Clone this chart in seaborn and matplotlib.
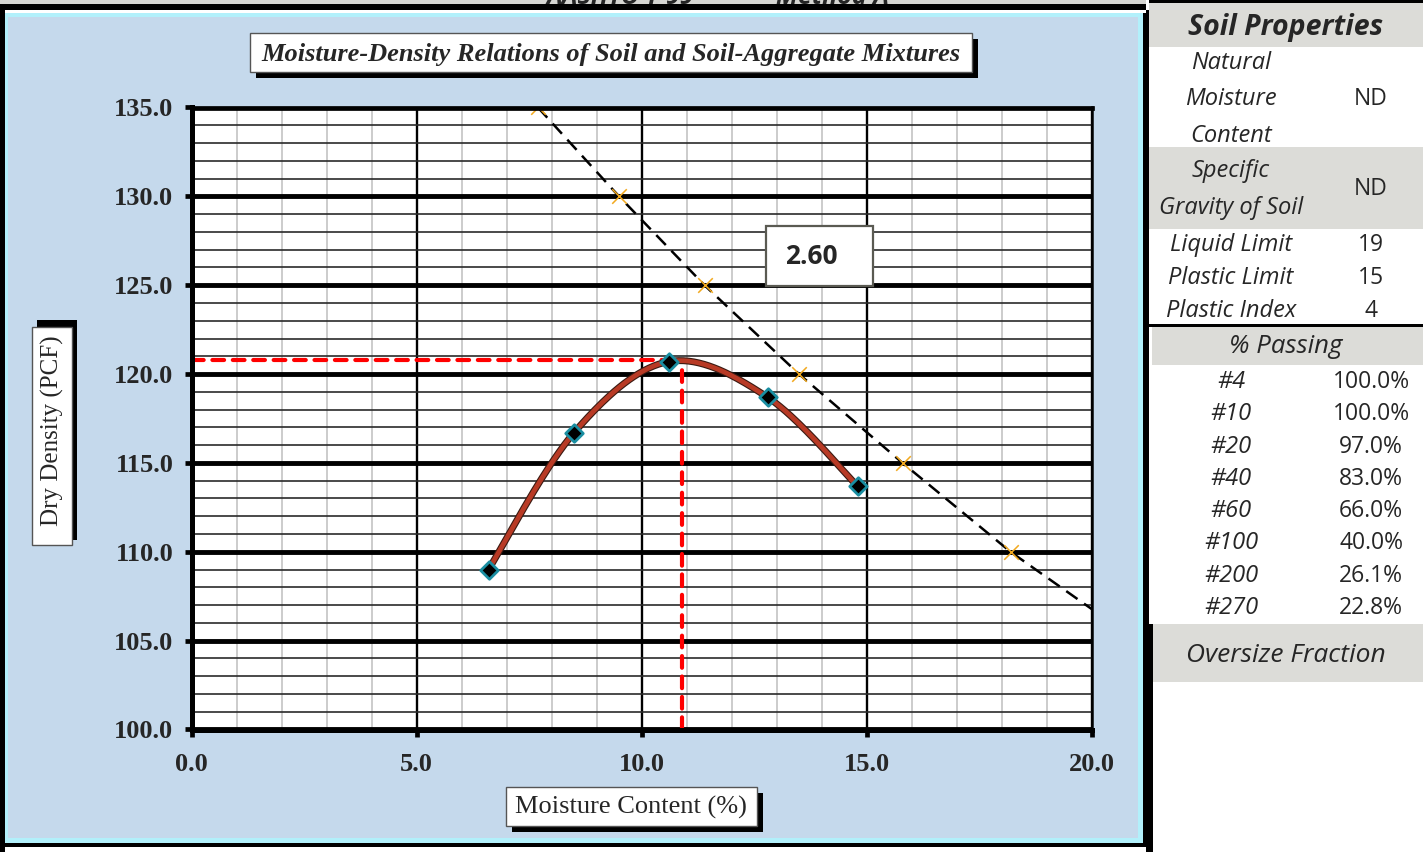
import numpy as np
import pandas as pd
import matplotlib
matplotlib.use("Agg")
import matplotlib.pyplot as plt
import matplotlib.patheffects as pe
from matplotlib.patches import Rectangle
from matplotlib.ticker import MultipleLocator, FixedLocator, FixedFormatter
import seaborn as sns

# ---- compaction test results ----
moisture_pct = [6.6, 8.5, 10.6, 12.8, 14.8]
dry_density_pcf = [109.0, 116.7, 120.7, 118.7, 113.7]

# optimum moisture / maximum dry density
opt_moisture = 10.9
max_dry_density = 120.8

# zero-air-voids line (Gs = 2.60)
zav_moisture = [7.7, 9.5, 11.4, 13.5, 15.8, 18.2, 21.0]
zav_density = [135.0, 130.0, 125.0, 120.0, 115.0, 110.0, 105.0]
zav_label = "2.60"

x_ticks = [0.0, 5.0, 10.0, 15.0, 20.0]
x_tick_labels = ["0.0", "5.0", "10.0", "15.0", "20.0"]
y_ticks = [100.0, 105.0, 110.0, 115.0, 120.0, 125.0, 130.0, 135.0]
y_tick_labels = ["100.0", "105.0", "110.0", "115.0", "120.0", "125.0", "130.0", "135.0"]

chart_title = "Moisture-Density Relations of Soil and Soil-Aggregate Mixtures"
x_label = "Moisture Content (%)"
y_label = "Dry Density (PCF)"
header_left = "AASHTO T-99"
header_right = "Method A"

# ---- soil property table ----
prop_title = "Soil Properties"
prop_nat_lines = ["Natural", "Moisture", "Content"]
prop_nat_value = "ND"
prop_gs_lines = ["Specific", "Gravity of Soil"]
prop_gs_value = "ND"
limit_names = ["Liquid Limit", "Plastic Limit", "Plastic Index"]
limit_values = ["19", "15", "4"]
passing_title = "% Passing"
sieve_labels = ["#4", "#10", "#20", "#40", "#60", "#100", "#200", "#270"]
percent_passing = [100.0, 100.0, 97.0, 83.0, 66.0, 40.0, 26.1, 22.8]
oversize_title = "Oversize Fraction"

W, H = 1423, 852
sns.set_theme(style="white")
plt.rcParams["font.family"] = ["Liberation Serif", "DejaVu Serif"]

fig = plt.figure(figsize=(W / 100, H / 100), dpi=100)
fig.patch.set_facecolor("white")


def rect(x0, y0, x1, y1, z=-10, **kw):
    r = Rectangle((x0 / W, 1 - y1 / H), (x1 - x0) / W, (y1 - y0) / H,
                  transform=fig.transFigure, zorder=z, **kw)
    fig.patches.append(r)
    return r


def ftext(x, y, s, z=20, **kw):
    return fig.text(x / W, 1 - y / H, s, zorder=z, **kw)


BLUE = "#C5D9EC"
CYAN = "#B2F0FB"
GRAY = "#DCDCD8"
SANS = ["Open Sans", "DejaVu Sans"]

# ---- frame of the chart sheet ----
rect(0, 0, 1146, 4, facecolor="#D6D6D2", linewidth=0)
rect(0, 4, 1146, 10, facecolor="black", linewidth=0)
rect(0, 10, 5, H, facecolor="black", linewidth=0)
rect(5, 13, 1146, 847, facecolor="black", linewidth=0)
rect(5, 13, 1143, 843, facecolor=CYAN, linewidth=0)
rect(8, 17, 1138, 838, facecolor=BLUE, linewidth=0)

# page heading, mostly hidden above the sheet edge
ftext(620, 4, header_left, fontsize=18, fontweight="bold", fontstyle="italic",
      family=SANS, ha="center", va="baseline")
ftext(832, 4, header_right, fontsize=18, fontweight="bold", fontstyle="italic",
      family=SANS, ha="center", va="baseline")

# ---- plot area ----
ax = fig.add_axes([191.5 / W, 1 - 729.5 / H, 900 / W, 622 / H])
ax.set_facecolor("white")
ax.set_xlim(0, 20)
ax.set_ylim(100, 135)

ax.xaxis.set_major_locator(FixedLocator(x_ticks))
ax.xaxis.set_major_formatter(FixedFormatter(x_tick_labels))
ax.yaxis.set_major_locator(FixedLocator(y_ticks))
ax.yaxis.set_major_formatter(FixedFormatter(y_tick_labels))
ax.xaxis.set_minor_locator(MultipleLocator(1))
ax.yaxis.set_minor_locator(MultipleLocator(1))

ax.set_axisbelow(True)
ax.grid(which="minor", axis="x", color="#C8C8C8", linewidth=1.3)
ax.grid(which="minor", axis="y", color="#2A2A2A", linewidth=1.2)
ax.grid(which="major", axis="x", color="black", linewidth=1.7)
ax.grid(which="major", axis="y", color="black", linewidth=3.5)

ax.tick_params(which="major", direction="out", length=5, width=3.4, color="black",
               pad=9, labelsize=19, bottom=True, left=True, top=False, right=False)
ax.tick_params(which="minor", length=0)
for lab in ax.get_xticklabels() + ax.get_yticklabels():
    lab.set_fontweight("bold")
    lab.set_family(["Liberation Serif", "DejaVu Serif"])
ax.tick_params(axis="x", pad=12)
ax.tick_params(axis="y", pad=8)

for side, lw in [("left", 3.6), ("bottom", 3.6), ("top", 3.4), ("right", 1.8)]:
    ax.spines[side].set_visible(True)
    ax.spines[side].set_color("black")
    ax.spines[side].set_linewidth(lw)
    ax.spines[side].set_zorder(6)


def smooth_curve(xs, ys, n=40):
    """Bezier smoothing through the points, like a spreadsheet smoothed line."""
    P = np.column_stack([xs, ys]).astype(float)
    out = []
    t = np.linspace(0, 1, n)[:, None]
    for i in range(len(P) - 1):
        p0 = P[i - 1] if i > 0 else P[i]
        p3 = P[i + 2] if i + 2 < len(P) else P[i + 1]
        p1, p2 = P[i], P[i + 1]
        c1 = p1 + (p2 - p0) / 6
        c2 = p2 - (p3 - p1) / 6
        seg = ((1 - t) ** 3) * p1 + 3 * ((1 - t) ** 2) * t * c1 + 3 * (1 - t) * t ** 2 * c2 + t ** 3 * p2
        out.append(seg if i == 0 else seg[1:])
    return np.vstack(out)


# zero-air-voids line
zav = pd.DataFrame({"w": zav_moisture, "d": zav_density})
sns.lineplot(data=zav, x="w", y="d", ax=ax, sort=False, estimator=None,
             color="black", linewidth=1.8, zorder=3)
ax.lines[-1].set_linestyle((0, (5.5, 3.2)))
sns.scatterplot(data=zav.iloc[:6], x="w", y="d", ax=ax, marker="x", s=110,
                color="#F2A91E", linewidth=1.1, zorder=4)

# optimum markers
ax.plot([0, opt_moisture], [max_dry_density, max_dry_density], color="#FF0000",
        linewidth=3.0, linestyle=(0, (2.8, 2.1)), dash_capstyle="round", zorder=3.5)
ax.plot([opt_moisture, opt_moisture], [100, max_dry_density], color="#FF0000",
        linewidth=3.0, linestyle=(0, (2.8, 2.1)), dash_capstyle="round", zorder=3.5,
        clip_on=False)

# compaction curve
curve = smooth_curve(moisture_pct, dry_density_pcf)
cdf = pd.DataFrame({"w": curve[:, 0], "d": curve[:, 1]})
sns.lineplot(data=cdf, x="w", y="d", ax=ax, sort=False, estimator=None,
             color="#B83A25", linewidth=3.4, zorder=4.5)
ax.lines[-1].set_path_effects([pe.Stroke(linewidth=5.0, foreground="#3A1A12"), pe.Normal()])

pts = pd.DataFrame({"w": moisture_pct, "d": dry_density_pcf})
sns.scatterplot(data=pts, x="w", y="d", ax=ax, marker="D", s=80, color="black",
                edgecolor="#1A8EA2", linewidth=2.0, zorder=5)

ax.set_xlabel("")
ax.set_ylabel("")
if ax.get_legend() is not None:
    ax.get_legend().remove()

# Gs label box
rect(766, 226, 873, 286, z=15, facecolor="white", edgecolor="#5A5A52", linewidth=1.6)
ftext(811, 256, zav_label, fontsize=19, fontweight="bold", family=SANS,
      ha="center", va="center")

# ---- title and axis caption boxes ----
rect(256, 39, 978, 78, z=15, facecolor="black", linewidth=0)
rect(250, 33, 972, 72, z=16, facecolor="white", edgecolor="#555555", linewidth=1)
ftext(611, 54, chart_title, fontsize=19, fontweight="bold", fontstyle="italic",
      ha="center", va="center")

rect(512, 793, 763, 832, z=15, facecolor="black", linewidth=0)
rect(506, 787, 757, 826, z=16, facecolor="white", edgecolor="#555555", linewidth=1)
ftext(631, 807, x_label, fontsize=19, ha="center", va="center")

rect(37, 320, 77, 540, z=15, facecolor="black", linewidth=0)
rect(32, 327, 72, 545, z=16, facecolor="white", edgecolor="#555555", linewidth=1)
ftext(52, 431, y_label, fontsize=18, rotation=90, ha="center", va="center")

# ---- soil properties table ----
rect(1146, 10, 1149, H, facecolor="black", linewidth=0)
rect(1147, 624, 1153, H, facecolor="black", linewidth=0)
rect(1149, 0, W, 3, facecolor="black", linewidth=0)
rect(1149, 3, W, 47, facecolor=GRAY, linewidth=0)
rect(1149, 147, W, 229, facecolor=GRAY, linewidth=0)
rect(1149, 324, W, 327, facecolor="black", linewidth=0)
rect(1152, 327, W, 365, facecolor=GRAY, linewidth=0)
rect(1153, 624, W, 682, facecolor=GRAY, linewidth=0)

LX, VX, CX = 1231, 1371, 1286
LFS, VFS = 17, 16.5
DY = 2
ftext(CX, 28, prop_title, fontsize=20.5, fontweight="bold", fontstyle="italic",
      family=SANS, ha="center", va="center")
for yy, s in zip([61, 97, 134], prop_nat_lines):
    ftext(LX, yy + DY, s, fontsize=LFS, fontstyle="italic", family=SANS, ha="center", va="center")
ftext(VX, 97 + DY, prop_nat_value, fontsize=VFS, family=SANS, ha="center", va="center")
for yy, s in zip([169, 206], prop_gs_lines):
    ftext(LX, yy + DY, s, fontsize=LFS, fontstyle="italic", family=SANS, ha="center", va="center")
ftext(VX, 187 + DY, prop_gs_value, fontsize=VFS, family=SANS, ha="center", va="center")
for yy, name, val in zip([243, 276, 309], limit_names, limit_values):
    ftext(LX, yy + DY, name, fontsize=LFS, fontstyle="italic", family=SANS, ha="center", va="center")
    ftext(VX, yy + DY, val, fontsize=VFS, family=SANS, ha="center", va="center")

ftext(CX, 345 + DY, passing_title, fontsize=18.5, fontstyle="italic", family=SANS,
      ha="center", va="center")
row_y = [380, 412, 445, 477, 509, 541, 574, 606]
for yy, name, val in zip(row_y, sieve_labels, percent_passing):
    ftext(LX, yy + DY, name, fontsize=LFS, fontstyle="italic", family=SANS, ha="center", va="center")
    ftext(VX, yy + DY, f"{val:.1f}%", fontsize=VFS, family=SANS, ha="center", va="center")
ftext(CX, 653 + DY, oversize_title, fontsize=19, fontstyle="italic", family=SANS,
      ha="center", va="center")

fig.savefig("out.png", dpi=100)
